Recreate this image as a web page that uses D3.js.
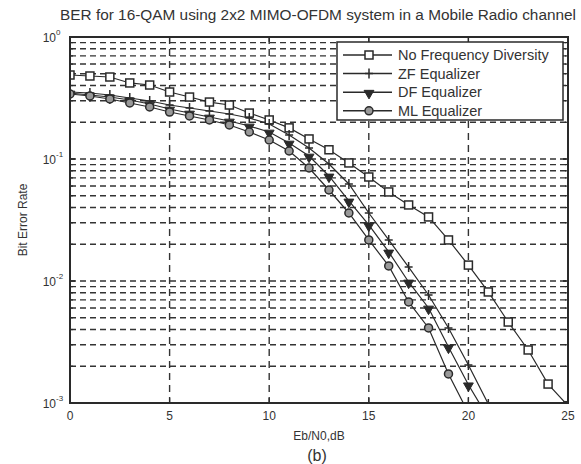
<!DOCTYPE html>
<html lang="en">
<head>
<meta charset="utf-8">
<title>BER for 16-QAM using 2x2 MIMO-OFDM</title>
<script src="https://cdn.jsdelivr.net/npm/d3@7/dist/d3.min.js"></script>
<style>
    body { margin: 0; background: #fff; }
    text { font-family: "Liberation Sans", Arial, sans-serif; fill: #333; }
</style>
</head>
<body>
<script>
// Eb/N0 in dB, one marker per dB
var snr = [0, 1, 2, 3, 4, 5, 6, 7, 8, 9, 10, 11, 12, 13, 14, 15, 16, 17, 18, 19, 20, 21, 22, 23, 24, 25];

// bit error rate
var berNoDiversity = [0.488, 0.479, 0.470, 0.420, 0.404, 0.354, 0.322, 0.293, 0.277, 0.238,
    0.209, 0.180, 0.146, 0.119, 0.0928, 0.0712, 0.0537, 0.0420, 0.0335, 0.0217,
    0.0135, 0.00813, 0.00461, 0.00272, 0.00143, 0.00095];
var berZF = [0.354, 0.3475, 0.3346, 0.3162, 0.2988, 0.2771, 0.2618, 0.2473, 0.2338, 0.2168,
    0.1936, 0.1573, 0.1231, 0.0910, 0.0624, 0.0361, 0.0217, 0.0130, 0.00768, 0.00412,
    0.00205, 0.00098];
var berDF = [0.3475, 0.3346, 0.3222, 0.3045, 0.2824, 0.2569, 0.2382, 0.2210, 0.2049, 0.1865,
    0.1665, 0.1352, 0.1058, 0.0726, 0.0453, 0.0288, 0.0173, 0.00982, 0.00601, 0.00288,
    0.00141, 0.000753];
var berML = [0.3410, 0.3284, 0.3103, 0.2877, 0.2668, 0.2427, 0.2252, 0.2088, 0.1900, 0.1665,
    0.1431, 0.1163, 0.0844, 0.0557, 0.0361, 0.0217, 0.0133, 0.00673, 0.00412, 0.00173,
    0.000828];

var seriesNames = ["No Frequency Diversity", "ZF Equalizer", "DF Equalizer", "ML Equalizer"];
var xTicks = [0, 5, 10, 15, 20, 25];
var yTicks = [1, 0.1, 0.01, 0.001];
var yTickExp = ["0", "-1", "-2", "-3"];

var w = 581, h = 464;
var pLeft = 70, pRight = 568, pTop = 37, pBottom = 403;
var ink = "#2a2a2a";

var svg = d3.select("body").append("svg")
    .attr("width", w)
    .attr("height", h);

var x = d3.scaleLinear().domain([0, 25]).range([pLeft, pRight]);
var y = d3.scaleLog().domain([0.001, 1]).range([pBottom, pTop]);

svg.append("defs").append("clipPath").attr("id", "plotclip")
    .append("rect")
    .attr("x", pLeft).attr("y", pTop)
    .attr("width", pRight - pLeft).attr("height", pBottom - pTop);

// grid: every k*10^n between the decades, dashed
var gridY = [];
[-3, -2, -1].forEach(function (e) {
    for (var k = 1; k <= 9; k++) {
        var v = k * Math.pow(10, e);
        if (v > 0.0011 && v < 0.99) gridY.push(v);
    }
});

var grid = svg.append("g");
grid.selectAll("line.gy")
    .data(gridY)
    .enter().append("line")
    .attr("x1", pLeft).attr("x2", pRight)
    .attr("y1", function (d) { return y(d); })
    .attr("y2", function (d) { return y(d); })
    .attr("stroke", "#333")
    .attr("stroke-width", 1.4)
    .attr("stroke-dasharray", "6,4");

grid.selectAll("line.gx")
    .data(xTicks.slice(1, -1))
    .enter().append("line")
    .attr("y1", pTop).attr("y2", pBottom)
    .attr("x1", function (d) { return x(d); })
    .attr("x2", function (d) { return x(d); })
    .attr("stroke", "#333")
    .attr("stroke-width", 1.4)
    .attr("stroke-dasharray", "7,5");

// inward ticks on all four sides
var ticks = svg.append("g").attr("stroke", ink).attr("stroke-width", 1.2);
xTicks.forEach(function (d) {
    ticks.append("line").attr("x1", x(d)).attr("x2", x(d)).attr("y1", pBottom).attr("y2", pBottom - 5);
    ticks.append("line").attr("x1", x(d)).attr("x2", x(d)).attr("y1", pTop).attr("y2", pTop + 5);
});
gridY.concat(yTicks).forEach(function (d) {
    var len = yTicks.indexOf(d) >= 0 ? 5 : 3;
    ticks.append("line").attr("x1", pLeft).attr("x2", pLeft + len).attr("y1", y(d)).attr("y2", y(d));
    ticks.append("line").attr("x1", pRight).attr("x2", pRight - len).attr("y1", y(d)).attr("y2", y(d));
});

// series
var series = [
    { name: seriesNames[0], values: berNoDiversity, marker: "square" },
    { name: seriesNames[1], values: berZF, marker: "plus" },
    { name: seriesNames[2], values: berDF, marker: "tri" },
    { name: seriesNames[3], values: berML, marker: "circle" }
];

function drawMarker(g, type, cx, cy) {
    if (type === "square") {
        g.append("rect").attr("x", cx - 4).attr("y", cy - 4).attr("width", 8).attr("height", 8)
            .attr("fill", "#fff").attr("stroke", ink).attr("stroke-width", 1.5);
    } else if (type === "plus") {
        g.append("path").attr("d", "M" + (cx - 4) + "," + cy + "H" + (cx + 4) + "M" + cx + "," + (cy - 5) + "V" + (cy + 5))
            .attr("stroke", ink).attr("stroke-width", 1.5).attr("fill", "none");
    } else if (type === "tri") {
        g.append("path").attr("d", d3.symbol().type(d3.symbolTriangle).size(42)())
            .attr("transform", "translate(" + cx + "," + (cy + 1) + ") rotate(180)")
            .attr("fill", ink).attr("stroke", ink).attr("stroke-width", 1);
    } else {
        g.append("circle").attr("cx", cx).attr("cy", cy).attr("r", 4)
            .attr("fill", "#999").attr("stroke", ink).attr("stroke-width", 1.5);
    }
}

var line = d3.line()
    .x(function (d, i) { return x(snr[i]); })
    .y(function (d) { return y(d); });

var plot = svg.append("g").attr("clip-path", "url(#plotclip)");
series.forEach(function (s) {
    plot.append("path")
        .attr("d", line(s.values))
        .attr("fill", "none")
        .attr("stroke", ink)
        .attr("stroke-width", 1.2);
});
series.forEach(function (s) {
    var mg = plot.append("g");
    s.values.forEach(function (v, i) {
        drawMarker(mg, s.marker, x(snr[i]), y(v));
    });
});

// box
svg.append("rect")
    .attr("x", pLeft).attr("y", pTop)
    .attr("width", pRight - pLeft).attr("height", pBottom - pTop)
    .attr("fill", "none").attr("stroke", ink).attr("stroke-width", 2);

// tick labels
svg.selectAll("text.xt")
    .data(xTicks)
    .enter().append("text")
    .attr("x", function (d) { return x(d); })
    .attr("y", pBottom + 17)
    .attr("text-anchor", "middle")
    .attr("font-size", "12px")
    .text(function (d) { return d; });

svg.selectAll("text.yt")
    .data(yTicks)
    .enter().append("text")
    .attr("x", pLeft - 14)
    .attr("y", function (d) { return y(d) + 5; })
    .attr("text-anchor", "end")
    .attr("font-size", "12px")
    .text("10");
yTicks.forEach(function (d, i) {
    svg.append("text")
        .attr("x", pLeft - 14)
        .attr("y", y(d) - 2)
        .attr("font-size", "8px")
        .text(yTickExp[i]);
});

// titles
svg.append("text")
    .attr("x", 60).attr("y", 20)
    .attr("font-size", "14px")
    .attr("textLength", 516)
    .attr("lengthAdjust", "spacingAndGlyphs")
    .text("BER for 16-QAM using 2x2 MIMO-OFDM system in a Mobile Radio channel");

svg.append("text")
    .attr("x", (pLeft + pRight) / 2).attr("y", 440)
    .attr("text-anchor", "middle")
    .attr("font-size", "12px")
    .text("Eb/N0,dB");

svg.append("text")
    .attr("x", (pLeft + pRight) / 2 - 2).attr("y", 461)
    .attr("text-anchor", "middle")
    .attr("font-size", "16px")
    .text("(b)");

svg.append("text")
    .attr("transform", "translate(27," + ((pTop + pBottom) / 2) + ") rotate(-90)")
    .attr("text-anchor", "middle")
    .attr("font-size", "12px")
    .text("Bit Error Rate");

// legend
var lg = svg.append("g");
lg.append("rect")
    .attr("x", 337).attr("y", 42)
    .attr("width", 226).attr("height", 78)
    .attr("fill", "#fff").attr("stroke", ink).attr("stroke-width", 1.5);
series.forEach(function (s, i) {
    var ly = 55 + i * 18.6;
    lg.append("line").attr("x1", 343).attr("x2", 392).attr("y1", ly).attr("y2", ly)
        .attr("stroke", ink).attr("stroke-width", 1.5);
    drawMarker(lg, s.marker, 369, ly);
    lg.append("text").attr("x", 398).attr("y", ly + 5)
        .attr("font-size", "14.5px")
        .text(s.name);
});
</script>
</body>
</html>
